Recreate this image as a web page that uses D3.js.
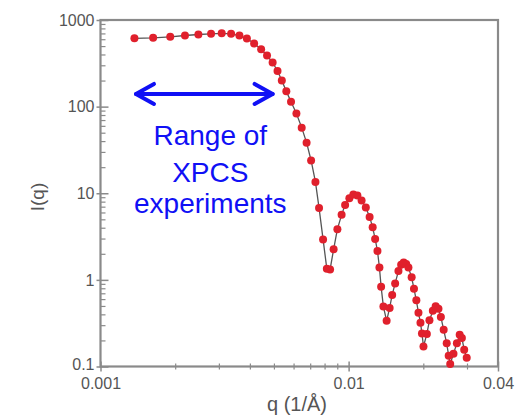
<!DOCTYPE html>
<html>
<head>
<meta charset="utf-8">
<script src="https://cdn.jsdelivr.net/npm/d3@7"></script>
<style>
  body { margin: 0; background: #fff; }
  .axis text { font-family: "Liberation Sans", Arial, sans-serif; font-size: 16px; fill: #555; }
  .axis path, .axis line { stroke: #8a8a8a; }
</style>
</head>
<body>
<svg id="chart"></svg>
<script>
// scattering curve
const qValues = [
  0.00137, 0.00163, 0.00191, 0.00219, 0.00248, 0.00279, 0.00308, 0.00336, 0.00363, 0.00389,
  0.00416, 0.00444, 0.00469, 0.00494, 0.00517, 0.00538, 0.00561, 0.00586, 0.00616, 0.00647,
  0.00677, 0.00706, 0.00735, 0.00760, 0.00789, 0.00817, 0.00842, 0.00870, 0.00901, 0.00937,
  0.00968, 0.01007, 0.01045, 0.01085, 0.01128, 0.01173, 0.01215, 0.01250, 0.01279, 0.01307,
  0.01331, 0.01352, 0.01381, 0.01423, 0.01463, 0.01498, 0.01540, 0.01588, 0.01628, 0.01667,
  0.01706, 0.01742, 0.01795, 0.01834, 0.01875, 0.01912, 0.01948, 0.01975, 0.02003, 0.02067,
  0.02117, 0.02185, 0.02243, 0.02302, 0.02354, 0.02416, 0.02485, 0.02531, 0.02567, 0.02646,
  0.02731, 0.02803, 0.02861, 0.02923, 0.02992
];
const intensity = [
  615, 623, 640, 662, 680, 693, 702, 693, 662, 612,
  536, 459, 389, 323, 258, 200, 150, 114, 83.4, 57.2,
  38.4, 23.9, 13.5, 6.77, 2.93, 1.34, 1.32, 2.25, 3.85, 5.63,
  7.34, 8.77, 9.70, 9.44, 8.27, 6.86, 5.33, 4.04, 2.97, 2.16,
  1.39, 0.831, 0.492, 0.337, 0.475, 0.671, 0.911, 1.27, 1.49, 1.59,
  1.53, 1.39, 1.07, 0.788, 0.580, 0.416, 0.319, 0.241, 0.170, 0.238,
  0.341, 0.439, 0.495, 0.463, 0.374, 0.265, 0.185, 0.133, 0.107, 0.140,
  0.186, 0.232, 0.214, 0.156, 0.126
];

const xDomain = [0.001, 0.04];
const yDomain = [0.1, 1000];
const xMajorTicks = [0.001, 0.01, 0.04];
const xTickLabels = ['0.001', '0.01', '0.04'];
const xMinorTicks = [0.002, 0.003, 0.004, 0.005, 0.006, 0.007, 0.008, 0.009, 0.02, 0.03];
const yMajorTicks = [0.1, 1, 10, 100, 1000];
const yTickLabels = ['0.1', '1', '10', '100', '1000'];

const xpcsRange = [0.00139, 0.00494];
const xpcsLevel = 140;
const noteLines = ['Range of', 'XPCS', 'experiments'];

const svg = d3.select('#chart')
    .attr('width', 527)
    .attr('height', 420),
  margin = {top: 20, right: 29, bottom: 53.5, left: 100.5},
  width = 527 - margin.left - margin.right,
  height = 420 - margin.top - margin.bottom;

const g = svg.append('g')
  .attr('transform', 'translate(' + margin.left + ',' + margin.top + ')');

const x = d3.scaleLog().domain(xDomain).range([0, width]);
const y = d3.scaleLog().domain(yDomain).range([height, 0]);

// y minor ticks (2..9 in each decade), pointing inside
let yMinor = [];
yMajorTicks.slice(0, -1).forEach(d => {
  for (let k = 2; k <= 9; k++) yMinor.push(d * k);
});

g.append('g')
  .attr('class', 'axis')
  .call(d3.axisLeft(y).tickValues(yMinor).tickSize(-5).tickFormat(''))
  .call(s => s.select('.domain').remove())
  .selectAll('line').attr('stroke-width', 1.2);

g.append('g')
  .attr('class', 'axis')
  .call(d3.axisBottom(x).tickValues(xMinorTicks).tickSize(3).tickFormat(''))
  .attr('transform', 'translate(0,' + height + ')')
  .call(s => s.select('.domain').remove())
  .selectAll('line').attr('y1', -3).attr('stroke-width', 1.2);

// frame
g.append('rect')
  .attr('x', 0).attr('y', 0)
  .attr('width', width).attr('height', height)
  .attr('fill', 'none')
  .attr('stroke', '#8a8a8a')
  .attr('stroke-width', 2.2);

const yAxis = g.append('g')
  .attr('class', 'axis')
  .call(d3.axisLeft(y).tickValues(yMajorTicks).tickSize(4).tickPadding(2)
    .tickFormat((d, i) => yTickLabels[i]));
yAxis.select('.domain').remove();
yAxis.selectAll('line').attr('x2', -4).attr('x1', 8).attr('stroke-width', 1.5);
// the lowest label sits a little above its tick, clear of the x labels
yAxis.selectAll('text').filter(d => d === 0.1).attr('dy', '0.2em');

const xAxis = g.append('g')
  .attr('class', 'axis')
  .attr('transform', 'translate(0,' + height + ')')
  .call(d3.axisBottom(x).tickValues(xMajorTicks).tickSize(5).tickPadding(6)
    .tickFormat((d, i) => xTickLabels[i]));
xAxis.select('.domain').remove();
xAxis.selectAll('line').attr('y1', -5).attr('stroke-width', 1.5);

// axis titles
svg.append('text')
  .attr('transform', 'translate(44,' + (margin.top + 177) + ') rotate(-90)')
  .attr('text-anchor', 'middle')
  .attr('font-family', '"Liberation Sans", Arial, sans-serif')
  .attr('font-size', 19)
  .attr('fill', '#555')
  .text('I(q)');

svg.append('text')
  .attr('x', 297)
  .attr('y', 411)
  .attr('text-anchor', 'middle')
  .attr('font-family', '"Liberation Sans", Arial, sans-serif')
  .attr('font-size', 20)
  .attr('fill', '#555')
  .text('q (1/Å)');

// data line and dots
const pts = qValues.map((q, i) => ({q: q, v: intensity[i]}));

g.append('path')
  .datum(pts)
  .attr('fill', 'none')
  .attr('stroke', '#555')
  .attr('stroke-width', 1.3)
  .attr('d', d3.line().x(d => x(d.q)).y(d => y(d.v)));

g.append('g')
  .selectAll('circle')
  .data(pts)
  .enter().append('circle')
  .attr('r', 4)
  .attr('cx', d => x(d.q))
  .attr('cy', d => y(d.v))
  .attr('fill', '#e0202c');

// double arrow for XPCS range
const blue = '#1010f5';
const ax0 = x(xpcsRange[0]), ax1 = x(xpcsRange[1]), ay = y(xpcsLevel);
const note = g.append('g')
  .attr('stroke', blue)
  .attr('stroke-width', 4)
  .attr('stroke-linecap', 'round')
  .attr('stroke-linejoin', 'round')
  .attr('fill', 'none');
note.append('line').attr('x1', ax0).attr('x2', ax1).attr('y1', ay).attr('y2', ay);
note.append('path').attr('d', 'M' + (ax0 + 18) + ',' + (ay - 10) + 'L' + ax0 + ',' + ay + 'L' + (ax0 + 18) + ',' + (ay + 10));
note.append('path').attr('d', 'M' + (ax1 - 18) + ',' + (ay - 10) + 'L' + ax1 + ',' + ay + 'L' + (ax1 - 18) + ',' + (ay + 10));

const noteBase = [51, 88, 119];
g.append('g')
  .selectAll('text')
  .data(noteLines)
  .enter().append('text')
  .attr('x', (ax0 + ax1) / 2 + 6)
  .attr('y', (d, i) => ay + noteBase[i])
  .attr('text-anchor', 'middle')
  .attr('font-family', '"Liberation Sans", Arial, sans-serif')
  .attr('font-size', 28)
  .attr('fill', blue)
  .text(d => d);
</script>
</body>
</html>
